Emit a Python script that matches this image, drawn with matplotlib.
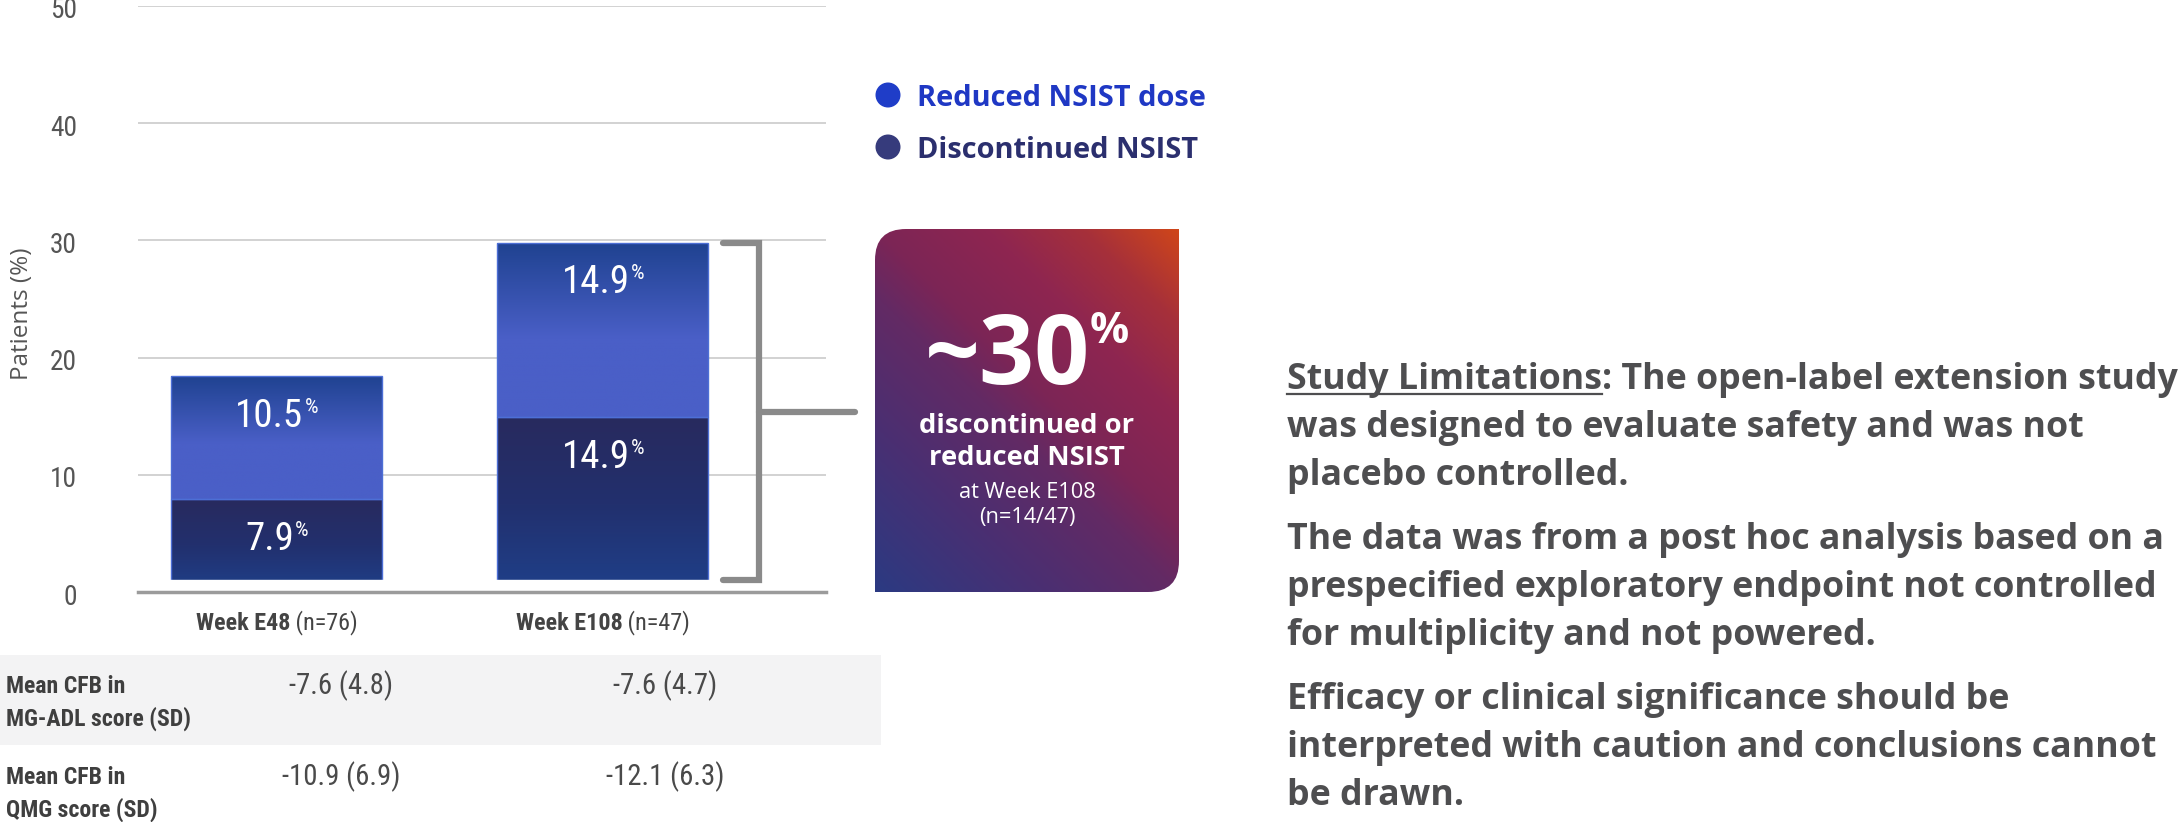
import numpy as np
import matplotlib
matplotlib.use('Agg')
import matplotlib.pyplot as plt
from matplotlib import font_manager as fm
from matplotlib.colors import LinearSegmentedColormap
from matplotlib.offsetbox import TextArea, HPacker, AnnotationBbox
from matplotlib.patches import Rectangle, Circle, PathPatch
from matplotlib.path import Path
from matplotlib.lines import Line2D
from matplotlib.transforms import ScaledTranslation, blended_transform_factory

# ---- data ----
weeks = ['Week E48', 'Week E108']
n_labels = [' (n=76)', ' (n=47)']
discontinued = [7.9, 14.9]
reduced = [10.5, 14.9]
y_ticks = [0, 10, 20, 30, 40, 50]
legend_labels = ['Reduced NSIST dose', 'Discontinued NSIST']
row_top = ['Mean CFB in', 'Mean CFB in']
row_bottom = ['MG-ADL score (SD)', 'QMG score (SD)']
mg_adl = ['-7.6 (4.8)', '-7.6 (4.7)']
qmg = ['-10.9 (6.9)', '-12.1 (6.3)']
callout_big = '~30'
callout_bold = ['discontinued or', 'reduced NSIST']
callout_small = ['at Week E108', '(n=14/47)']
limitations = [
    ['Study Limitations: The open-label extension study',
     'was designed to evaluate safety and was not',
     'placebo controlled.'],
    ['The data was from a post hoc analysis based on a',
     'prespecified exploratory endpoint not controlled',
     'for multiplicity and not powered.'],
    ['Efficacy or clinical significance should be',
     'interpreted with caution and conclusions cannot',
     'be drawn.'],
]

# ---- fonts ----
names = {f.name for f in fm.fontManager.ttflist}
FONT = 'Open Sans' if 'Open Sans' in names else 'DejaVu Sans'
NARROW = FONT
for cand in ['Roboto Condensed', 'Liberation Sans Narrow']:
    if cand in names:
        NARROW = cand
        break

GREY = '#555555'
TXT = '#4e4e50'

W, H = 2184, 822
fig = plt.figure(figsize=(W / 100, H / 100), dpi=100)
renderer = fig.canvas.get_renderer()


def text_width(s, **kw):
    t = fig.text(0, 0, s, **kw)
    w = t.get_window_extent(renderer).width
    t.remove()
    return w


def fit_size(s, target, **kw):
    return 20 * target / text_width(s, fontsize=20, **kw)


tick_size = fit_size('50', 27, family=NARROW)
ylab_size = fit_size('Patients (%)', 132, family=FONT)
bar_size = fit_size('10.5', 68, family=NARROW)
week_size = 20 * 162 / (text_width('Week E48', fontsize=20, family=NARROW, weight='bold')
                        + text_width(' (n=76)', fontsize=20, family=NARROW))
leg_size = fit_size(legend_labels[0], 289, family=FONT, weight='bold')
tab_size = fit_size('MG-ADL score (SD)', 185, family=NARROW, weight='bold')
val_size = fit_size('-10.9 (6.9)', 118, family=NARROW)
big_size = fit_size(callout_big, 166, family=FONT, weight='bold')
call_size = fit_size(callout_bold[0], 215, family=FONT, weight='bold')
small_size = fit_size(callout_small[0], 136, family=FONT)
lim_size = fit_size(limitations[0][0], 892, family=FONT, weight='bold')

# overlay axes in pixel coordinates (y down)
ov = fig.add_axes([0, 0, 1, 1])
ov.set_xlim(0, W)
ov.set_ylim(H, 0)
ov.axis('off')
ov.set_zorder(0)

# ---- chart ----
ax = fig.add_axes([138 / W, 1 - 592 / H, 688 / W, 586 / H])
ax.set_zorder(1)
ax.patch.set_alpha(0)

x = np.arange(len(weeks))
bw = 0.647
bars_d = ax.bar(x, discontinued, width=bw, facecolor='none', edgecolor='#4d6fd6', lw=1, zorder=2)
bars_r = ax.bar(x, reduced, bottom=discontinued, width=bw, facecolor='none',
                edgecolor='#4d6fd6', lw=1, zorder=2)

cm_r = LinearSegmentedColormap.from_list('r', [(0, '#1f4290'), (0.55, '#4a5fc7'), (1, '#4a5fc7')])
cm_d = LinearSegmentedColormap.from_list('d', [(0, '#282a5e'), (0.5, '#22306e'), (1, '#1f408a')])
grad = np.linspace(0, 1, 256).reshape(-1, 1)
for bars, cm in [(bars_r, cm_r), (bars_d, cm_d)]:
    for p in bars:
        im = ax.imshow(grad, cmap=cm, extent=(p.get_x(), p.get_x() + p.get_width(),
                                               p.get_y(), p.get_y() + p.get_height()),
                       aspect='auto', origin='upper', zorder=1.5)
        im.set_clip_path(p)

ax.set_xlim(-0.426, 1.684)
ax.set_ylim(0, 50)

# white gap under bars, then baseline
ax.axhspan(0, 1.0, color='white', zorder=3)
ax.axhline(0, color='#9b9b9b', lw=2.5, zorder=4, clip_on=False)
for t in y_ticks[1:]:
    ax.axhline(t, color='#cfcfcf', lw=1.3, zorder=0)

for s in ax.spines.values():
    s.set_visible(False)
ax.set_xticks([])
ax.set_yticks([])

# y tick labels, sitting a few pixels below their gridlines
lab_tr = blended_transform_factory(ax.transAxes, ax.transData) + \
    ScaledTranslation(0, -5 / 100, fig.dpi_scale_trans)
for t in y_ticks:
    ax.text(-(138 - 77) / 688, t, str(t), transform=lab_tr, ha='right', va='center',
            fontsize=tick_size, family=NARROW, color=GREY, clip_on=False)

fig.text(22 / W, 1 - 314 / H, 'Patients (%)', rotation=90, ha='center', va='center',
         fontsize=ylab_size, color=GREY, family=FONT)


def sup_label(axis, xy, main, sup, size, color, family, weight='normal', xycoords='data', sep=1):
    t1 = TextArea(main, textprops=dict(size=size, color=color, family=family, weight=weight))
    t2 = TextArea(sup, textprops=dict(size=size * 0.55, color=color, family=family, weight=weight))
    box = HPacker(children=[t1, t2], align='top', pad=0, sep=sep)
    ab = AnnotationBbox(box, xy, xycoords=xycoords, frameon=False, box_alignment=(0.5, 0.5),
                        pad=0, zorder=6, annotation_clip=False)
    axis.add_artist(ab)


# value labels near top of each segment
for i in range(len(weeks)):
    top_d = discontinued[i]
    top_r = discontinued[i] + reduced[i]
    sup_label(ax, (x[i], top_d - 3.4), f'{discontinued[i]:.1f}', '%', bar_size, 'white', NARROW)
    sup_label(ax, (x[i], top_r - 3.4), f'{reduced[i]:.1f}', '%', bar_size, 'white', NARROW)

# category labels
for i in range(len(weeks)):
    t1 = TextArea(weeks[i], textprops=dict(size=week_size, color='#444444', family=NARROW, weight='bold'))
    t2 = TextArea(n_labels[i], textprops=dict(size=week_size, color='#444444', family=NARROW))
    box = HPacker(children=[t1, t2], align='baseline', pad=0, sep=0)
    ab = AnnotationBbox(box, (x[i], -(623 - 592) / 586), xycoords=('data', 'axes fraction'),
                        frameon=False, box_alignment=(0.5, 0.5), pad=0, annotation_clip=False)
    ax.add_artist(ab)

# bracket around the E108 bar
total2 = discontinued[1] + reduced[1]
gap = 1.0
ax.plot([1.368, 1.479, 1.479, 1.368], [total2, total2, gap, gap], color='#8a8a8a', lw=4.5,
        solid_capstyle='round', solid_joinstyle='miter', clip_on=False, zorder=5)
ax.plot([1.479, 1.773], [(total2 + gap) / 2] * 2, color='#8a8a8a', lw=4.5,
        solid_capstyle='round', clip_on=False, zorder=5)

# ---- legend ----
leg_colors = ['#1f3dc8', '#363b7c']
leg_text_colors = ['#1f38c4', '#2b2f6e']
for i, lab in enumerate(legend_labels):
    cy = 95 + 52 * i
    ov.add_patch(Circle((888, cy), 12.5, color=leg_colors[i], lw=0))
    ov.text(917, cy + 11, lab, fontsize=leg_size, weight='bold', family=FONT,
            color=leg_text_colors[i], va='baseline', ha='left')

# ---- callout box ----
bx0, bx1, by0, by1, r = 875, 1179, 229, 592, 31
verts = [(bx0, by0 + r), (bx0, by0), (bx0 + r, by0), (bx1, by0), (bx1, by1 - r),
         (bx1, by1), (bx1 - r, by1), (bx0, by1), (bx0, by0 + r)]
codes = [Path.MOVETO, Path.CURVE3, Path.CURVE3, Path.LINETO, Path.LINETO,
         Path.CURVE3, Path.CURVE3, Path.LINETO, Path.CLOSEPOLY]
box_patch = PathPatch(Path(verts, codes), facecolor='none', edgecolor='none')
ov.add_patch(box_patch)
cm_box = LinearSegmentedColormap.from_list('b', [(0, '#2b3a82'), (0.25, '#4a2f72'), (0.45, '#632a64'),
                                                 (0.55, '#7c2556'), (0.72, '#8f2650'),
                                                 (0.86, '#a6303a'), (1.0, '#cf461a')])
rows = np.linspace(1, 0, 300)[:, None]
cols = np.linspace(0, 1, 300)[None, :]
tgrid = 0.45 * cols + 0.55 * rows
im = ov.imshow(tgrid, cmap=cm_box, extent=(bx0, bx1, by1, by0), origin='upper', aspect='auto',
               vmin=0, vmax=1, zorder=1)
im.set_clip_path(box_patch)
ov.set_xlim(0, W)
ov.set_ylim(H, 0)

cx = (bx0 + bx1) / 2
t1 = TextArea(callout_big, textprops=dict(size=big_size, color='white', family=FONT, weight='bold'))
t2 = TextArea('%', textprops=dict(size=big_size * 0.45, color='white', family=FONT, weight='bold'))
box = HPacker(children=[t1, t2], align='top', pad=0, sep=0)
ov.add_artist(AnnotationBbox(box, (cx, 358), xycoords='data', frameon=False,
                             box_alignment=(0.5, 0.5), pad=0, zorder=5))
ov.text(cx, 433, callout_bold[0], fontsize=call_size, weight='bold', color='white', family=FONT,
        ha='center', va='baseline', zorder=5)
ov.text(cx, 465, callout_bold[1], fontsize=call_size, weight='bold', color='white', family=FONT,
        ha='center', va='baseline', zorder=5)
ov.text(cx, 498, callout_small[0], fontsize=small_size, color='white', family=FONT,
        ha='center', va='baseline', zorder=5)
ov.text(cx, 523, callout_small[1], fontsize=small_size, color='white', family=FONT,
        ha='center', va='baseline', zorder=5)

# ---- table under the chart ----
ov.add_patch(Rectangle((0, 655), 881, 90, color='#f3f3f4', lw=0, zorder=0))
row_y = [686, 777]
for j, vals in enumerate([mg_adl, qmg]):
    ov.text(6, row_y[j], row_top[j], fontsize=tab_size, weight='bold', family=NARROW,
            color='#3f3f3f', va='center', ha='left')
    ov.text(6, row_y[j] + 33, row_bottom[j], fontsize=tab_size, weight='bold', family=NARROW,
            color='#3f3f3f', va='center', ha='left')
    for i, v in enumerate(vals):
        ov.text([341, 665][i], row_y[j], v, fontsize=val_size, family=NARROW,
                color='#4a4a4a', va='center', ha='center')

# ---- study limitations text ----
base = 389
lx = 1287
for p, para in enumerate(limitations):
    for k, line in enumerate(para):
        if p == 0 and k == 0:
            head = 'Study Limitations'
            first = ov.text(lx, base, head, fontsize=lim_size, weight='bold', family=FONT,
                            color=TXT, va='baseline', ha='left')
            bb = first.get_window_extent(renderer)
            x_end = ov.transData.inverted().transform((bb.x1, 0))[0]
            ov.text(x_end, base, line[len(head):], fontsize=lim_size, weight='bold', family=FONT,
                    color=TXT, va='baseline', ha='left')
            ov.add_line(Line2D([lx, x_end], [base + 5, base + 5], color=TXT, lw=1.6))
        else:
            ov.text(lx, base, line, fontsize=lim_size, weight='bold', family=FONT,
                    color=TXT, va='baseline', ha='left')
        base += 48
    base += 16

fig.savefig('out.png', dpi=100)
